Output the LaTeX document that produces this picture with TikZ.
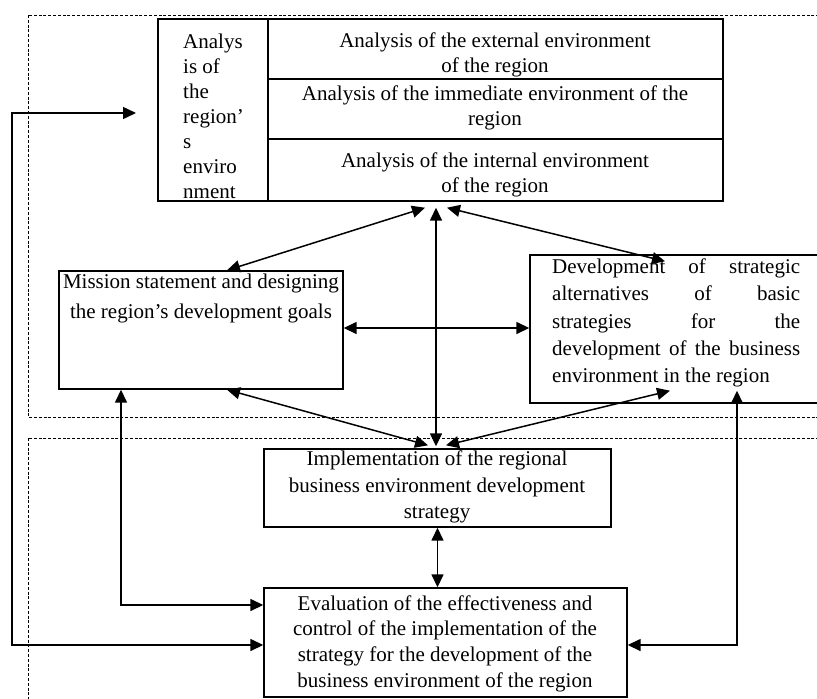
\documentclass[tikz,border=0pt]{standalone}
\usepackage{fontspec}
\setmainfont{Liberation Serif}
\usetikzlibrary{arrows.meta}
\begin{document}
\begin{tikzpicture}[x=1pt,y=-1pt,
  box/.style={draw, line width=1.4pt, inner sep=0pt},
  txt/.style={inner sep=0pt, align=center, font=\fontsize{21}{25}\selectfont},
  conn/.style={line width=1.5pt, {Triangle[length=13pt,width=12pt]}-{Triangle[length=13pt,width=12pt]}},
  zone/.style={draw, line width=1pt, dash pattern=on 3pt off 1.8pt}]
\useasboundingbox (0,0) rectangle (817,699);
\clip (0,0) rectangle (817,699);
% dashed zones
\draw[zone] (28,15) rectangle (840,417);
\draw[zone] (28,438) rectangle (840,720);
% table
\node[box, minimum width=110pt, minimum height=182pt] (tabL) at (213,110) {};
\node[box, minimum width=455pt, minimum height=60pt] (tabR1) at (495.5,49) {};
\node[box, minimum width=455pt, minimum height=60pt] (tabR2) at (495.5,109) {};
\node[box, minimum width=455pt, minimum height=62pt] (tabR3) at (495.5,170) {};
\node[txt, align=left, anchor=west] (tabLt) at (183,116) {Analys\\is of\\the\\region’\\s\\enviro\\nment};
\node[txt] (tabR1t) at (495,55) {Analysis of the external environment\\of the region};
\node[txt] (tabR2t) at (495,108) {Analysis of the immediate environment of the\\region};
\node[txt] (tabR3t) at (495,175) {Analysis of the internal environment\\of the region};
% boxes
\node[box, minimum width=284pt, minimum height=118pt] (mission) at (201,330) {};
\node[txt, font=\fontsize{21}{30}\selectfont] (missiont) at (201,298) {Mission statement and designing\\the region’s development goals};
\node[box, minimum width=300pt, minimum height=148pt] (dev) at (680,329) {};
\node[txt, align=left, anchor=west, font=\fontsize{21}{27.3}\selectfont] (devt) at (552,323)
  {\makebox[248pt][s]{Development of strategic}\\
   \makebox[248pt][s]{alternatives of basic}\\
   \makebox[248pt][s]{strategies for the}\\
   \makebox[248pt][s]{development of the business}\\
   environment in the region};
\node[box, minimum width=347pt, minimum height=78pt] (impl) at (437.5,488) {};
\node[txt, font=\fontsize{21}{26.5}\selectfont] (implt) at (437,487) {Implementation of the regional\\business environment development\\strategy};
\node[box, minimum width=363pt, minimum height=109pt] (eval) at (445.5,642.5) {};
\node[txt, font=\fontsize{21}{25.7}\selectfont] (evalt) at (445,643.5) {Evaluation of the effectiveness and\\control of the implementation of the\\strategy for the development of the\\business environment of the region};
% connectors
\coordinate (inA) at (136,113);
\coordinate (loopL) at (12,113);
\draw[conn] (inA) -- (loopL) |- ([yshift=-2.5pt]eval.west);
\draw[conn] ([xshift=-80pt]mission.south) |- ([yshift=37.5pt]eval.west);
\draw[conn] ([xshift=57pt,yshift=13pt]dev.south) |- ([yshift=-2.5pt]eval.east);
\draw[conn] (impl.south) -- (impl.south |- eval.north);
\draw[conn] ([xshift=-59.5pt,yshift=-6pt]tabR3.south) -- ([xshift=-1.5pt,yshift=2pt]impl.north);
\draw[conn] ([xshift=-70.5pt,yshift=-6pt]tabR3.south) -- ([xshift=26pt]mission.north);
\draw[conn] ([xshift=-48.5pt,yshift=-6pt]tabR3.south) -- ([xshift=-15pt,yshift=-7pt]dev.north);
\draw[conn] ([yshift=2pt]mission.east) -- ([yshift=1pt]dev.west);
\draw[conn] ([xshift=26pt]mission.south) -- ([xshift=-9.5pt,yshift=3pt]impl.north);
\draw[conn] ([xshift=-10pt,yshift=13pt]dev.south) -- ([xshift=8.5pt,yshift=3pt]impl.north);
\end{tikzpicture}
\end{document}
